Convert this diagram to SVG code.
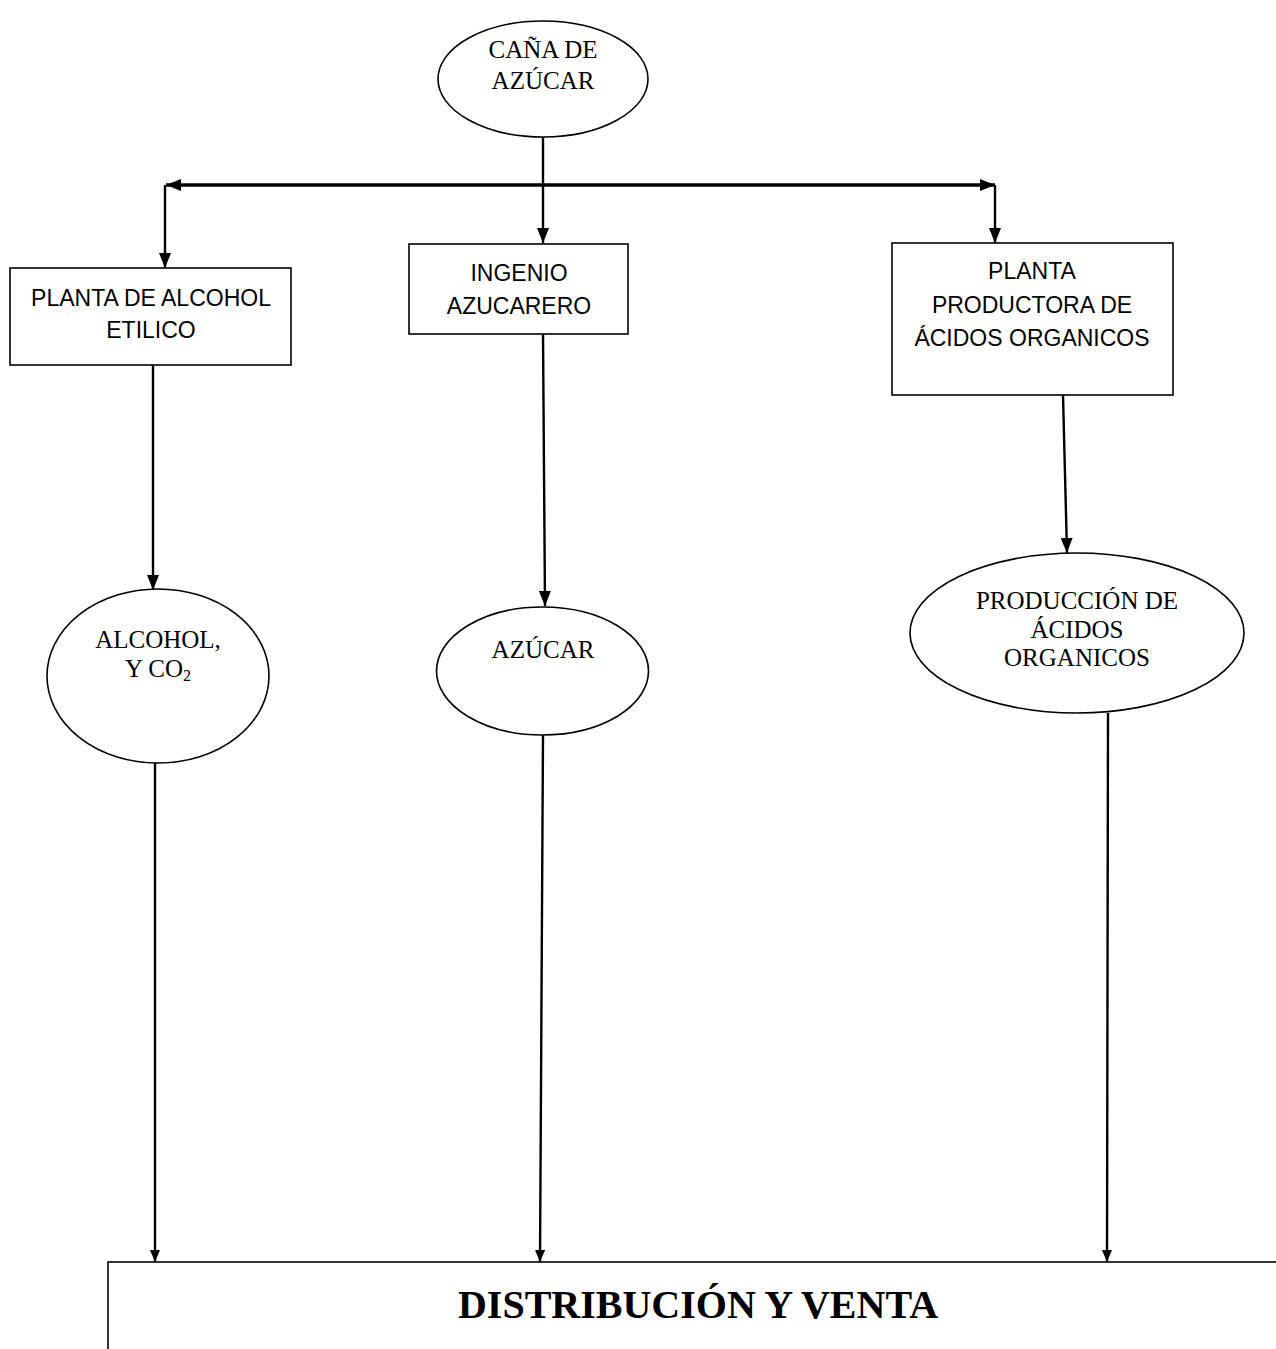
<svg xmlns="http://www.w3.org/2000/svg" width="1276" height="1349" viewBox="0 0 1276 1349">
  <style>
    .shape { fill: #ffffff; stroke: #000000; stroke-width: 1.6; }
    .link { fill: none; stroke: #000000; stroke-width: 2.4; }
    .bus { fill: none; stroke: #000000; stroke-width: 3.4; }
    .serif { font-family: "Liberation Serif", "Times New Roman", serif; font-size: 25px; fill: #000; text-anchor: middle; }
    .sans { font-family: "Liberation Sans", Arial, sans-serif; font-size: 23px; fill: #000; text-anchor: middle; }
    .title { font-family: "Liberation Serif", "Times New Roman", serif; font-size: 40px; font-weight: bold; fill: #000; text-anchor: middle; }
  </style>
  <defs>
    <marker id="arrow" viewBox="0 0 12 10" refX="12" refY="5" markerWidth="12" markerHeight="10" markerUnits="userSpaceOnUse" orient="auto-start-reverse">
      <path d="M0,0 L12,5 L0,10 z" fill="#000"/>
    </marker>
    <marker id="arrowBig" viewBox="0 0 15 12" refX="15" refY="6" markerWidth="15" markerHeight="12" markerUnits="userSpaceOnUse" orient="auto-start-reverse">
      <path d="M0,0 L15,6 L0,12 z" fill="#000"/>
    </marker>
  </defs>

  <rect width="1276" height="1349" fill="#ffffff"/>

  <!-- connectors -->
  <g id="connectors">
    <line class="link" x1="543" y1="137" x2="543" y2="243" marker-end="url(#arrowBig)"/>
    <line class="bus" x1="166" y1="185" x2="995" y2="185" marker-start="url(#arrowBig)" marker-end="url(#arrowBig)"/>
    <line class="link" x1="165" y1="185" x2="165" y2="268" marker-end="url(#arrowBig)"/>
    <line class="link" x1="995" y1="185" x2="995" y2="243" marker-end="url(#arrowBig)"/>
    <line class="link" x1="153" y1="365" x2="153" y2="590" marker-end="url(#arrowBig)"/>
    <line class="link" x1="543" y1="334" x2="545" y2="606" marker-end="url(#arrowBig)"/>
    <line class="link" x1="1063" y1="395" x2="1067" y2="553" marker-end="url(#arrowBig)"/>
    <line class="link" x1="155" y1="763" x2="155" y2="1262" marker-end="url(#arrow)"/>
    <line class="link" x1="543" y1="735" x2="540" y2="1262" marker-end="url(#arrow)"/>
    <line class="link" x1="1108" y1="713" x2="1107" y2="1262" marker-end="url(#arrow)"/>
  </g>

  <!-- sugar cane source -->
  <g id="cana">
    <ellipse class="shape" cx="543" cy="79" rx="105" ry="58"/>
    <text class="serif" x="543" y="58">CAÑA DE</text>
    <text class="serif" x="543" y="89">AZÚCAR</text>
  </g>

  <!-- processing plants -->
  <g id="planta-alcohol">
    <rect class="shape" x="10" y="268" width="281" height="97"/>
    <text class="sans" x="151" y="306">PLANTA DE ALCOHOL</text>
    <text class="sans" x="151" y="338">ETILICO</text>
  </g>

  <g id="ingenio">
    <rect class="shape" x="409" y="244" width="219" height="90"/>
    <text class="sans" x="519" y="281">INGENIO</text>
    <text class="sans" x="519" y="314">AZUCARERO</text>
  </g>

  <g id="planta-acidos">
    <rect class="shape" x="892" y="243" width="281" height="152"/>
    <text class="sans" x="1032" y="279">PLANTA</text>
    <text class="sans" x="1032" y="313">PRODUCTORA DE</text>
    <text class="sans" x="1032" y="346">ÁCIDOS ORGANICOS</text>
  </g>

  <!-- products -->
  <g id="alcohol">
    <ellipse class="shape" cx="158" cy="676" rx="111" ry="87"/>
    <text class="serif" x="158" y="648">ALCOHOL,</text>
    <text class="serif" x="158" y="677">Y CO<tspan font-size="16" dy="4">2</tspan></text>
  </g>

  <g id="azucar">
    <ellipse class="shape" cx="542.5" cy="671" rx="106" ry="64"/>
    <text class="serif" x="543" y="658">AZÚCAR</text>
  </g>

  <g id="acidos">
    <ellipse class="shape" cx="1077" cy="633" rx="167" ry="80"/>
    <text class="serif" x="1077" y="609">PRODUCCIÓN DE</text>
    <text class="serif" x="1077" y="638">ÁCIDOS</text>
    <text class="serif" x="1077" y="666">ORGANICOS</text>
  </g>

  <!-- distribution -->
  <g id="distribucion">
    <rect class="shape" x="108" y="1262" width="1180" height="110"/>
    <text class="title" x="698" y="1318">DISTRIBUCIÓN Y VENTA</text>
  </g>
</svg>
